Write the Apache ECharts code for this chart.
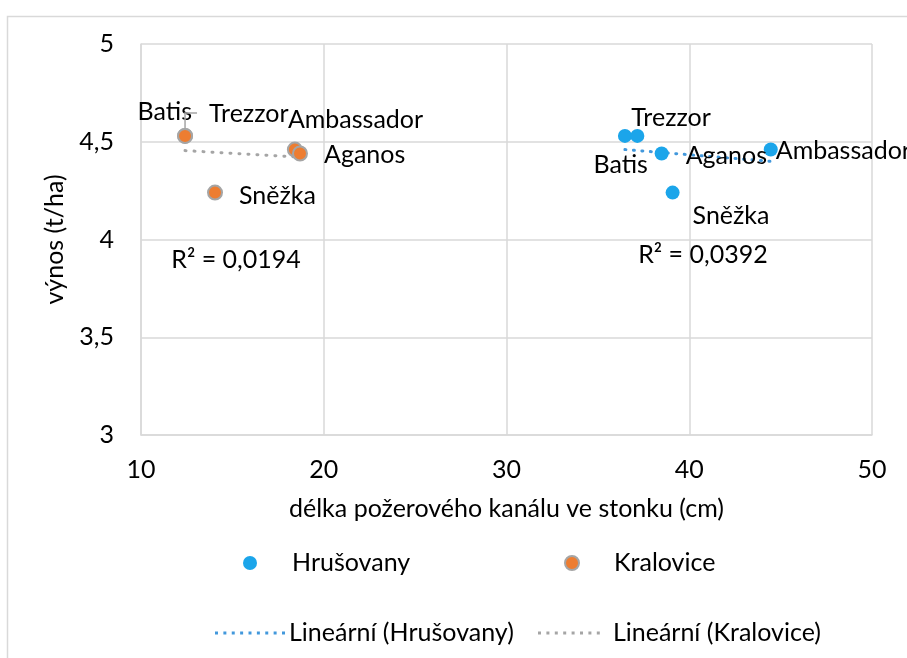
<!DOCTYPE html>
<html>
<head>
<meta charset="utf-8">
<script src="https://cdn.jsdelivr.net/npm/echarts@6/dist/echarts.min.js"></script>
<style>
html,body{margin:0;padding:0;background:#fff;}
#chart{width:907px;height:658px;}
</style>
</head>
<body>
<div id="chart"></div>
<script>
// ---- data ----
const varieties = ['Batis', 'Trezzor', 'Ambassador', 'Aganos', 'Sněžka'];
const hrusovanyX = [36.48, 37.16, 44.46, 38.49, 39.09];
const hrusovanyY = [4.53, 4.53, 4.46, 4.44, 4.24];
const kraloviceX = [12.41, 12.41, 18.42, 18.70, 14.05];
const kraloviceY = [4.53, 4.53, 4.46, 4.44, 4.24];
const r2Labels = ['R² = 0,0392', 'R² = 0,0194'];
const r2Anchors = [[40.75, 3.921], [15.2, 3.893]];
const xTicks = [10, 20, 30, 40, 50];
const yTicks = [3, 3.5, 4, 4.5, 5];

const FONT = 'Lato';
const FS = 25;
const LH = 26;

function regression(xs, ys) {
  const n = xs.length;
  const mx = xs.reduce((a, b) => a + b, 0) / n;
  const my = ys.reduce((a, b) => a + b, 0) / n;
  let sxy = 0, sxx = 0;
  for (let i = 0; i < n; i++) { sxy += (xs[i] - mx) * (ys[i] - my); sxx += (xs[i] - mx) ** 2; }
  const b = sxy / sxx, a = my - b * mx;
  const x0 = Math.min(...xs), x1 = Math.max(...xs);
  return [[x0, a + b * x0], [x1, a + b * x1]];
}

// label placement (style only)
const hrLabelStyle = {
  'Batis': {position: 'left', offset: [35, 29]},
  'Trezzor': {position: 'right', offset: [-18, -18]},
  'Ambassador': {position: 'right', offset: [-7, 1]},
  'Aganos': {position: 'right', offset: [12, 2]},
  'Sněžka': {position: 'right', offset: [8, 23]}
};
const krLabelStyle = {
  'Batis': {position: 'left', offset: [20, -24]},
  'Trezzor': {position: 'right', offset: [11, -22]},
  'Ambassador': {position: 'right', offset: [-20, -30]},
  'Aganos': {position: 'right', offset: [11, 1]},
  'Sněžka': {position: 'right', offset: [11, 3]}
};

function buildPoints(xs, ys, styles) {
  return varieties.map((name, i) => ({
    name: name,
    value: [xs[i], ys[i]],
    label: Object.assign({show: true, formatter: name}, styles[name])
  }));
}

function dotsPath(n, step) {
  let p = 'path://';
  for (let i = 0; i < n; i++) {
    const x = i * step;
    p += 'M' + x + ',0h3v3h-3z';
  }
  return p;
}

const chart = echarts.init(document.getElementById('chart'), null, {renderer: 'canvas'});
const hrLine = regression(hrusovanyX, hrusovanyY);
const krLine = regression(kraloviceX, kraloviceY);

const textStyle = {fontFamily: FONT, fontSize: FS, lineHeight: LH, color: '#000'};
const BLUE = '#1BA5EA', ORANGE = '#ED7D31', GREY = '#A5A5A5', LBLUE = '#4298DC';

chart.setOption({
  animation: false,
  textStyle: {fontFamily: FONT},
  graphic: [{
    id: 'frame', type: 'rect', left: 5, top: 14, shape: {width: 1000, height: 1000},
    style: {fill: 'none', stroke: '#d9d9d9', lineWidth: 1.5}, silent: true, z: -1
  }],
  grid: {left: 141, right: 35, top: 44, bottom: 223, containLabel: false},
  xAxis: {
    type: 'value', min: xTicks[0], max: xTicks[xTicks.length - 1], interval: 10,
    name: 'délka požerového kanálu ve stonku (cm)', nameLocation: 'middle', nameGap: 61,
    nameTextStyle: textStyle,
    axisLine: {show: true, lineStyle: {color: '#d9d9d9', width: 1.5}},
    axisTick: {show: false},
    axisLabel: Object.assign({margin: 22}, textStyle),
    splitLine: {show: true, lineStyle: {color: '#d9d9d9', width: 1.5}}
  },
  yAxis: {
    type: 'value', min: yTicks[0], max: yTicks[yTicks.length - 1], interval: 0.5,
    name: 'výnos (t/ha)', nameLocation: 'middle', nameGap: 64,
    nameTextStyle: textStyle,
    axisLine: {show: true, lineStyle: {color: '#d9d9d9', width: 1.5}},
    axisTick: {show: false},
    axisLabel: Object.assign({margin: 27, formatter: v => String(v).replace('.', ',')}, textStyle),
    splitLine: {show: true, lineStyle: {color: '#d9d9d9', width: 1.5}}
  },
  legend: [{
    data: [{name: 'Hrušovany', icon: 'circle'}],
    left: 238, top: 545, itemWidth: 14, itemHeight: 14,
    textStyle: Object.assign({padding: [0, 0, 0, 30]}, textStyle)
  }, {
    data: [{name: 'Kralovice', icon: 'circle'}],
    left: 559, top: 545, itemWidth: 14, itemHeight: 14,
    itemStyle: {borderColor: GREY, borderWidth: 2},
    textStyle: Object.assign({padding: [0, 0, 0, 30]}, textStyle)
  }, {
    data: [{name: 'Lineární (Hrušovany)', icon: dotsPath(9, 8.4)}],
    left: 210, top: 615, itemWidth: 70, itemHeight: 3,
    itemStyle: {color: LBLUE},
    textStyle: Object.assign({padding: [0, 0, 0, -1]}, textStyle)
  }, {
    data: [{name: 'Lineární (Kralovice)', icon: dotsPath(8, 8.4)}],
    left: 533, top: 615, itemWidth: 62, itemHeight: 3,
    itemStyle: {color: GREY},
    textStyle: Object.assign({padding: [0, 0, 0, 8]}, textStyle)
  }],
  series: [{
    name: 'Hrušovany', type: 'scatter', symbolSize: 14,
    itemStyle: {color: BLUE, opacity: 1},
    label: Object.assign({}, textStyle),
    data: buildPoints(hrusovanyX, hrusovanyY, hrLabelStyle),
    z: 3
  }, {
    name: 'Kralovice', type: 'scatter', symbolSize: 14,
    itemStyle: {color: ORANGE, borderColor: GREY, borderWidth: 2, opacity: 1},
    label: Object.assign({}, textStyle),
    data: buildPoints(kraloviceX, kraloviceY, krLabelStyle),
    z: 3
  }, {
    name: 'Lineární (Hrušovany)', type: 'line', symbol: 'none',
    lineStyle: {color: LBLUE, width: 3, type: [1, 7.5], cap: 'round'},
    itemStyle: {color: LBLUE},
    data: hrLine, z: 2,
    markPoint: {
      symbolSize: 0, silent: true,
      label: Object.assign({show: true, position: 'inside', formatter: r2Labels[0]}, textStyle),
      data: [{coord: r2Anchors[0]}]
    }
  }, {
    name: 'Lineární (Kralovice)', type: 'line', symbol: 'none',
    lineStyle: {color: GREY, width: 3, type: [1, 8], cap: 'round'},
    itemStyle: {color: GREY},
    data: krLine, z: 2,
    markPoint: {
      symbolSize: 0, silent: true,
      label: Object.assign({show: true, position: 'inside', formatter: r2Labels[1]}, textStyle),
      data: [{coord: r2Anchors[1]}]
    }
  }]
});

// leader line of the moved "Batis" label (Kralovice), anchored to the data point via the axes
const bi = varieties.indexOf('Batis');
const bp = chart.convertToPixel({gridIndex: 0}, [kraloviceX[bi], kraloviceY[bi]]);
chart.setOption({
  graphic: [{
    id: 'leader', type: 'polyline', silent: true, z: 10,
    shape: {points: [[bp[0] + 12, bp[1] - 23], [bp[0], bp[1] - 23], [bp[0], bp[1] - 8]]},
    style: {stroke: GREY, lineWidth: 1.5, fill: 'none'}
  }]
});
</script>
</body>
</html>
